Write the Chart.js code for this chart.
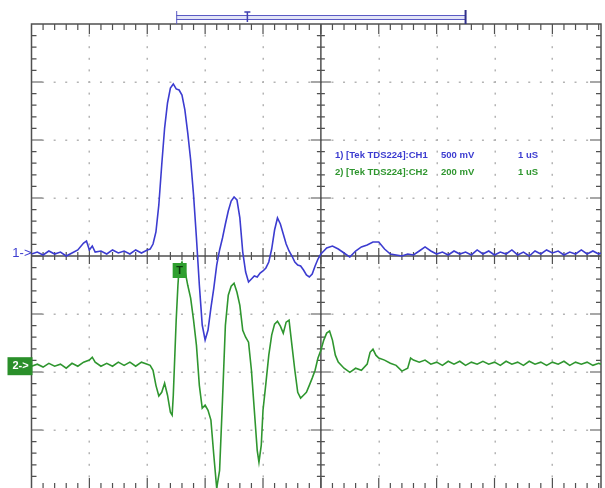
<!DOCTYPE html>
<html><head><meta charset="utf-8">
<script src="https://cdn.jsdelivr.net/npm/chart.js@4"></script>
<style>html,body{margin:0;padding:0;background:#fff;}canvas{display:block;}</style>
</head><body><canvas id="c" width="605" height="488"></canvas>
<script>
// ---- data (time in µs, voltage in mV) ----
const ch1Time = [
 0,0.1,0.2,0.3,0.4,0.5,0.6,0.7,0.8,0.9,0.95,1.0,1.05,1.1,1.2,1.3,1.4,1.5,1.6,1.7,1.8,1.9,2.0,2.05,
 2.1,2.15,2.2,2.25,2.3,2.35,2.4,2.45,2.5,2.55,2.6,2.65,2.7,2.75,2.8,2.85,2.9,2.95,3.0,3.05,
 3.1,3.15,3.2,3.25,3.3,3.35,3.4,3.45,3.5,3.55,3.6,3.65,3.7,3.75,3.8,3.85,3.9,3.95,4.0,4.05,
 4.1,4.15,4.2,4.25,4.3,4.35,4.4,4.45,4.5,4.55,4.6,4.65,4.7,4.75,4.8,4.85,4.9,4.95,5.0,5.05,
 5.1,5.2,5.3,5.4,5.5,5.6,5.7,5.8,5.9,6.0,6.1,6.2,6.3,6.4,6.5,6.6,6.7,6.8,6.9,
 7.0,7.1,7.2,7.3,7.4,7.5,7.6,7.7,7.8,7.9,8.0,8.1,8.2,8.3,8.4,8.5,8.6,8.7,8.8,8.9,
 9.0,9.1,9.2,9.3,9.4,9.5,9.6,9.7,9.8,9.84
];
const ch1mV = [
 17,34,9,43,17,34,0,26,52,112,129,52,86,34,43,17,52,26,43,17,52,26,52,60,
 103,207,440,784,1103,1319,1448,1483,1440,1431,1388,1259,1060,828,526,155,-250,-595,-724,-638,
 -448,-276,-78,52,155,276,388,474,509,483,328,34,-138,-224,-198,-172,-181,-147,-129,-103,
 -52,60,224,328,276,190,103,43,0,-52,-78,-86,-121,-164,-181,-155,-86,-26,17,43,
 69,86,60,26,-9,43,78,95,121,121,60,17,9,0,17,9,43,78,43,
 17,34,9,43,17,34,9,52,17,43,9,34,17,52,9,34,0,43,17,52,
 26,43,9,34,17,52,17,43,17,26
];
const ch2Time = [
 0,0.1,0.2,0.3,0.4,0.5,0.6,0.7,0.8,0.9,1.0,1.05,1.1,1.2,1.3,1.4,1.5,1.6,1.7,1.8,1.9,2.0,2.05,
 2.1,2.15,2.2,2.25,2.3,2.35,2.4,2.43,2.45,2.5,2.53,2.55,2.6,2.65,2.7,2.75,2.8,2.85,2.9,2.95,3.0,3.05,
 3.1,3.15,3.2,3.25,3.3,3.35,3.4,3.45,3.5,3.55,3.6,3.65,3.7,3.75,3.8,3.85,3.9,3.93,3.97,4.0,4.05,
 4.1,4.15,4.2,4.25,4.3,4.35,4.4,4.45,4.5,4.55,4.6,4.65,4.7,4.75,4.8,4.85,4.9,4.95,5.0,5.05,
 5.1,5.15,5.2,5.25,5.3,5.4,5.5,5.6,5.7,5.8,5.85,5.9,5.95,6.0,6.1,6.2,6.3,6.4,6.5,6.55,6.6,6.7,6.8,6.9,
 7.0,7.1,7.2,7.3,7.4,7.5,7.6,7.7,7.8,7.9,8.0,8.1,8.2,8.3,8.4,8.5,8.6,8.7,8.8,8.9,
 9.0,9.1,9.2,9.3,9.4,9.5,9.6,9.7,9.8,9.84
];
const ch2mV = [
 0,7,-3,10,0,7,-7,10,0,14,21,31,14,0,10,0,14,3,14,0,14,7,3,
 -14,-66,-103,-90,-59,-100,-159,-169,-100,159,279,338,359,331,279,235,159,72,-66,-145,-134,-152,
 -186,-307,-421,-359,-117,141,245,276,286,255,210,124,100,83,-14,-152,-290,-331,-272,-152,-59,
 38,107,145,155,138,114,152,159,72,-14,-90,-110,-100,-90,-66,-41,-14,28,55,90,
 114,121,90,38,14,-7,-21,-7,-14,7,48,59,38,28,21,10,3,-17,-7,28,21,14,21,7,
 14,3,17,7,17,3,14,7,17,7,14,3,17,7,14,3,17,7,14,3,
 14,7,17,3,14,7,14,3,10,7
];
// screen settings
const timeRange = [0, 9.84];          // µs shown (1 µs/div)
const ch1Range = [-2000, 2000];       // mV (500 mV/div)
const ch2Range = [-420, 1180];        // mV (200 mV/div, ground 1.9 div below centre)
const windowStart = 2.5, windowEnd = 7.5, triggerPos = 3.73, triggerMark = 2.56; // µs
const legendLines = [
  ["1) [Tek TDS224]:CH1", "500 mV", "1 uS"],
  ["2) [Tek TDS224]:CH2", "200 mV", "1 uS"]
];
const BLUE = '#3c3cd0', GREEN = '#2f962f';

function pts(t, v){ return t.map((x,i)=>({x, y:v[i]})); }

const graticule = {
  id:'graticule',
  beforeDatasetsDraw(chart){
    const {ctx, chartArea:a, scales:{x, y}} = chart;
    ctx.save();
    // dotted division lines
    ctx.fillStyle = '#b4b4b4';
    for (let d=1; d<=9; d++){
      if (d===5) continue;
      const px = Math.round(x.getPixelForValue(d));
      for (let k=-20; k<=20; k++){
        const py = y.getPixelForValue(k*100);
        if (py < a.top+3 || py > a.bottom-3) continue;
        ctx.fillRect(px-0.5, py-1, 1.5, 2);
      }
    }
    for (let d=-3; d<=3; d++){
      if (d===0) continue;
      const py = Math.round(y.getPixelForValue(d*500));
      for (let k=1; k<50; k++){
        const px = x.getPixelForValue(k*0.2);
        if (px > a.right-3) continue;
        ctx.fillRect(px-1, py-0.5, 2, 1.5);
      }
    }
    ctx.strokeStyle = '#505050';
    ctx.lineWidth = 1.5;
    // border
    ctx.beginPath();
    ctx.moveTo(a.left, a.bottom); ctx.lineTo(a.left, a.top); ctx.lineTo(a.right, a.top); ctx.lineTo(a.right, a.bottom);
    ctx.stroke();
    // centre axes
    const cx = x.getPixelForValue(5), cy = y.getPixelForValue(0);
    ctx.beginPath();
    ctx.moveTo(cx, a.top); ctx.lineTo(cx, a.bottom);
    ctx.moveTo(a.left, cy); ctx.lineTo(a.right, cy);
    ctx.stroke();
    ctx.lineWidth = 1.2;
    ctx.beginPath();
    for (let k=1; k<50; k++){
      const px = x.getPixelForValue(k*0.2);
      if (px > a.right-1) continue;
      const major = (k%5===0);
      ctx.moveTo(px, a.top); ctx.lineTo(px, a.top + (major?10:6));
      ctx.moveTo(px, a.bottom); ctx.lineTo(px, a.bottom - (major?10:5));
      ctx.moveTo(px, cy-(major?8:4)); ctx.lineTo(px, cy+(major?8:4));
    }
    for (let k=-19; k<=19; k++){
      const py = y.getPixelForValue(k*100);
      const major = (k%5===0);
      ctx.moveTo(a.left, py); ctx.lineTo(a.left + (major?11:5), py);
      ctx.moveTo(a.right, py); ctx.lineTo(a.right - (major?11:5), py);
      ctx.moveTo(cx-(major?10:4), py); ctx.lineTo(cx+(major?10:4), py);
    }
    ctx.stroke();
    ctx.restore();
  },
  afterDatasetsDraw(chart){
    const {ctx, chartArea:a, scales:{x, y, y2}} = chart;
    ctx.save();
    // record window bracket
    const bx0 = x.getPixelForValue(windowStart), bx1 = x.getPixelForValue(windowEnd);
    ctx.fillStyle = '#e2e4f7';
    ctx.fillRect(bx0, 15, bx1-bx0, 4);
    ctx.strokeStyle = '#5a5ac4'; ctx.lineWidth = 1;
    ctx.beginPath();
    ctx.moveTo(bx0, 15.5); ctx.lineTo(bx1, 15.5);
    ctx.moveTo(bx0, 19.5); ctx.lineTo(bx1, 19.5);
    ctx.moveTo(bx0+0.5, 11); ctx.lineTo(bx0+0.5, 24);
    ctx.stroke();
    ctx.strokeStyle = '#30308a'; ctx.lineWidth = 2;
    ctx.beginPath(); ctx.moveTo(bx1, 10); ctx.lineTo(bx1, 24); ctx.stroke();
    const tp = x.getPixelForValue(triggerPos);
    ctx.strokeStyle = '#4040b0'; ctx.lineWidth = 1.5;
    ctx.beginPath(); ctx.moveTo(tp-3, 12); ctx.lineTo(tp+3, 12); ctx.moveTo(tp, 12); ctx.lineTo(tp, 22); ctx.stroke();

    // channel markers
    const g1 = y.getPixelForValue(0);
    ctx.font = '13px "Liberation Sans", Arial, sans-serif';
    ctx.fillStyle = BLUE; ctx.textAlign = 'right'; ctx.textBaseline = 'middle';
    ctx.fillText('1->', a.left, g1-3);
    const g2 = y2.getPixelForValue(0);
    ctx.fillStyle = '#2a8f2a';
    ctx.fillRect(a.left-24, g2-9, 25, 18);
    ctx.fillStyle = '#ffffff'; ctx.textAlign = 'center';
    ctx.font = 'bold 11px "Liberation Sans", Arial, sans-serif';
    ctx.fillText('2->', a.left-11, g2);
    // trigger marker box
    const tm = x.getPixelForValue(triggerMark);
    ctx.fillStyle = '#2f9f2f';
    ctx.fillRect(tm-7, g1+7, 14, 15);
    ctx.fillStyle = '#0c3a0c';
    ctx.font = 'bold 11px "Liberation Sans", Arial, sans-serif';
    ctx.fillText('T', tm, g1+15);

    // legend text
    ctx.font = 'bold 9.5px "Liberation Sans", Arial, sans-serif';
    ctx.textAlign = 'left';
    const cols = [335, 441, 518];
    const rows = [155, 172];
    const colors = [BLUE, GREEN];
    legendLines.forEach((line, i)=>{
      ctx.fillStyle = colors[i];
      line.forEach((s, j)=> ctx.fillText(s, cols[j], rows[i]));
    });
    ctx.restore();
  }
};

new Chart(document.getElementById('c'), {
  type: 'scatter',
  data: { datasets: [
    { label:'CH1', data: pts(ch1Time, ch1mV), yAxisID:'y', showLine:true, borderColor:BLUE, borderWidth:1.6, pointRadius:0, tension:0 },
    { label:'CH2', data: pts(ch2Time, ch2mV), yAxisID:'y2', showLine:true, borderColor:GREEN, borderWidth:1.6, pointRadius:0, tension:0 }
  ]},
  options: {
    responsive:false, animation:false, devicePixelRatio:1,
    layout:{ padding:{ left:31.5, top:24, right:4, bottom:0 } },
    plugins:{ legend:{display:false}, tooltip:{enabled:false} },
    scales:{
      x:{ type:'linear', min:timeRange[0], max:timeRange[1], display:false },
      y:{ type:'linear', min:ch1Range[0], max:ch1Range[1], display:false },
      y2:{ type:'linear', min:ch2Range[0], max:ch2Range[1], display:false }
    }
  },
  plugins:[graticule]
});
</script>
</body></html>
